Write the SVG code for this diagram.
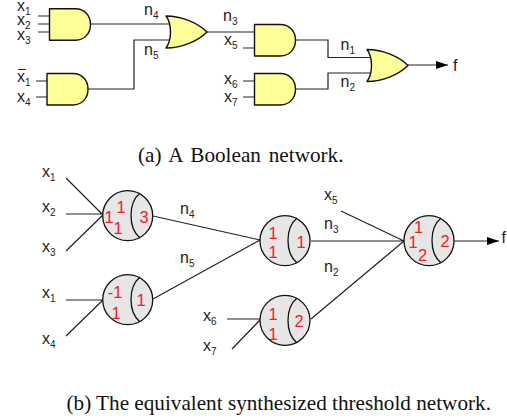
<svg xmlns="http://www.w3.org/2000/svg" width="507" height="419" viewBox="0 0 507 419">
<style>
text{font-family:"Liberation Sans",Arial,sans-serif;fill:#222}
.v{font-size:16px}.s{font-size:10px}
.c{font-family:"Liberation Serif","Times New Roman",serif;font-size:21.200px;fill:#111}
.r{fill:#f0202a;font-size:16.500px;text-anchor:middle}
.g{fill:#ffff99;stroke:#111;stroke-width:1.4;stroke-linejoin:round}
.t{fill:#e6e6e6;stroke:#111;stroke-width:1.3}
.a{fill:none;stroke:#111;stroke-width:1.3}
.l{fill:none;stroke:#222;stroke-width:1.2}
</style>
<defs>
<path id="and" d="M0 0H26C35 0 41 7 41 15.700C41 24.500 35 31.500 26 31.500H0Z"/>
<path id="or" d="M0 0C16 0 32 7 41 16C32 25 16 32 0 32C6 24 6 8 0 0Z"/>
<marker id="ah" markerWidth="12" markerHeight="8" refX="12" refY="4" orient="auto" markerUnits="userSpaceOnUse"><path d="M0 0L12 4L0 8Z" fill="#000"/></marker>
</defs>
<g id="connectors">
<path class="l" d="M38 16H50M38 24H50M38 32H50M36 81H47M36 97H47M91 24H170M88 89H134V40H170M207 32H255M243 48H255M243 81H255M243 97H255M296 40H328V57.500H373M296 89H328V73H373"/>
<path class="l" d="M408 65H448" marker-end="url(#ah)"/>
<path class="l" d="M66 178L103 215M66 214H103M66 251L103 215M66 300H103M66 336L103 300M153 216L260 240M153 299L260 240"/>
<path class="l" d="M227 319H260M232 349L260 320M311 241H404M341 211L404 241M311 319L404 241"/>
<path class="l" d="M454 241H499" marker-end="url(#ah)"/>
</g>
<g id="and1"><use href="#and" class="g" x="49.500" y="8.700"/></g>
<g id="and2"><use href="#and" class="g" x="47" y="73.500"/></g>
<g id="or1"><use href="#or" class="g" x="166" y="16"/></g>
<g id="and3"><use href="#and" class="g" x="254.500" y="24.500"/></g>
<g id="and4"><use href="#and" class="g" x="254.500" y="73.500"/></g>
<g id="or2"><use href="#or" class="g" x="367" y="49.500"/></g>
<g id="t1"><circle class="t" cx="127.700" cy="215.700" r="25"/><path class="a" d="M140 193C128 203 128 228 140 238"/><text class="r" x="109" y="223">1</text><text class="r" x="121" y="213">1</text><text class="r" x="118" y="234">1</text><text class="r" x="144" y="223">3</text></g>
<g id="t2"><circle class="t" cx="127.700" cy="299.700" r="25"/><path class="a" d="M140 277C128 287 128 312 140 322"/><text class="r" x="115" y="298">-1</text><text class="r" x="116" y="319">1</text><text class="r" x="141" y="306">1</text></g>
<g id="t3"><circle class="t" cx="285" cy="240.700" r="25"/><path class="a" d="M297 218C285 228 285 253 297 263"/><text class="r" x="273" y="239">1</text><text class="r" x="273" y="258">1</text><text class="r" x="301" y="248">1</text></g>
<g id="t4"><circle class="t" cx="285" cy="320.300" r="25"/><path class="a" d="M297 298C285 308 285 333 297 343"/><text class="r" x="273" y="320">1</text><text class="r" x="273" y="340">1</text><text class="r" x="299" y="327">2</text></g>
<g id="t5"><circle class="t" cx="429" cy="240.700" r="25"/><path class="a" d="M441 218C429 228 429 253 441 263"/><text class="r" x="418.500" y="233">1</text><text class="r" x="413" y="247.500">1</text><text class="r" x="422.500" y="261">2</text><text class="r" x="445" y="247">2</text></g>
<g id="labels">
<text class="v" x="17" y="10.500">x<tspan class="s" dy="4">1</tspan></text>
<text class="v" x="17" y="24.500">x<tspan class="s" dy="4">2</tspan></text>
<text class="v" x="17" y="40">x<tspan class="s" dy="4">3</tspan></text>
<text class="v" x="17" y="82">x<tspan class="s" dy="4">1</tspan></text>
<path d="M18 69.500H26" stroke="#222" stroke-width="1"/>
<text class="v" x="17" y="102">x<tspan class="s" dy="4">4</tspan></text>
<text class="v" x="144" y="15">n<tspan class="s" dy="4">4</tspan></text>
<text class="v" x="144" y="55">n<tspan class="s" dy="4">5</tspan></text>
<text class="v" x="223" y="20.500">n<tspan class="s" dy="4">3</tspan></text>
<text class="v" x="224" y="45">x<tspan class="s" dy="4">5</tspan></text>
<text class="v" x="224" y="84">x<tspan class="s" dy="4">6</tspan></text>
<text class="v" x="224" y="102">x<tspan class="s" dy="4">7</tspan></text>
<text class="v" x="340.500" y="50">n<tspan class="s" dy="4">1</tspan></text>
<text class="v" x="340.500" y="87">n<tspan class="s" dy="4">2</tspan></text>
<text class="v" x="453" y="71">f</text>
<text class="c" x="138" y="161.500" word-spacing="2.600">(a) A Boolean network.</text>
<text class="v" x="42" y="176.500">x<tspan class="s" dy="4">1</tspan></text>
<text class="v" x="42" y="212">x<tspan class="s" dy="4">2</tspan></text>
<text class="v" x="42" y="251.500">x<tspan class="s" dy="4">3</tspan></text>
<text class="v" x="42" y="297.500">x<tspan class="s" dy="4">1</tspan></text>
<text class="v" x="42" y="343.500">x<tspan class="s" dy="4">4</tspan></text>
<text class="v" x="180" y="214">n<tspan class="s" dy="4">4</tspan></text>
<text class="v" x="180" y="263">n<tspan class="s" dy="4">5</tspan></text>
<text class="v" x="203" y="321">x<tspan class="s" dy="4">6</tspan></text>
<text class="v" x="203" y="350.500">x<tspan class="s" dy="4">7</tspan></text>
<text class="v" x="324" y="200">x<tspan class="s" dy="4">5</tspan></text>
<text class="v" x="324" y="229">n<tspan class="s" dy="4">3</tspan></text>
<text class="v" x="324" y="271.500">n<tspan class="s" dy="4">2</tspan></text>
<text class="v" x="501.500" y="243">f</text>
<text class="c" x="66.500" y="410">(b) The equivalent synthesized threshold network.</text>
</g>
</svg>
